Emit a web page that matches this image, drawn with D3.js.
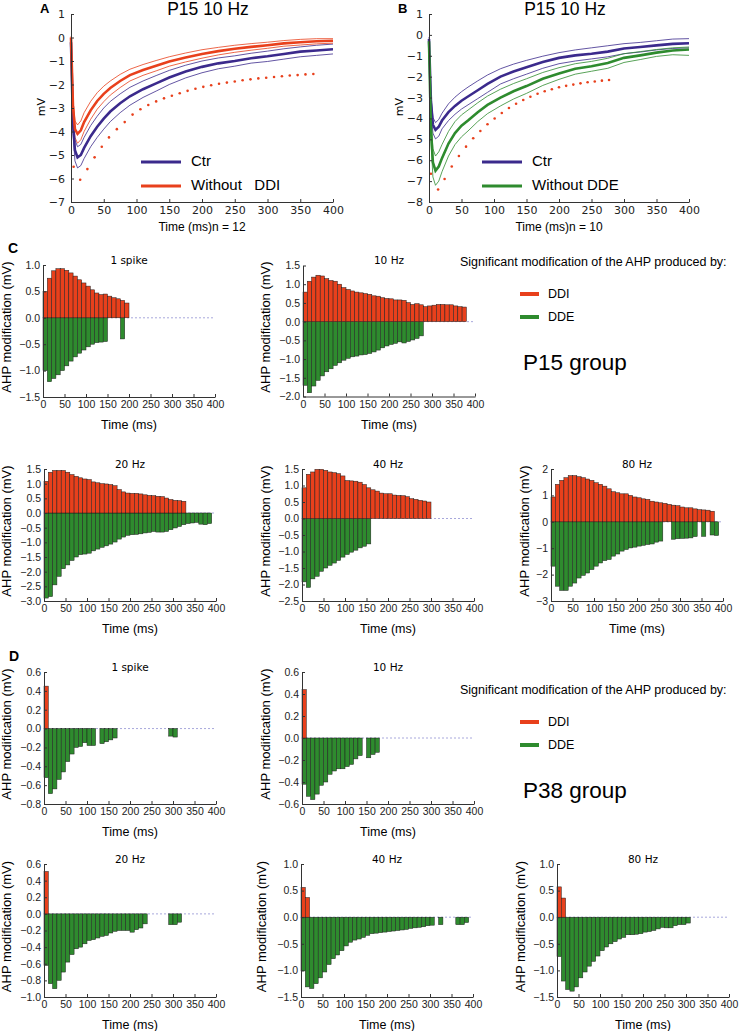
<!DOCTYPE html>
<html><head><meta charset="utf-8">
<script src="https://cdn.jsdelivr.net/npm/d3@7"></script>
<style>body{margin:0;background:#fff}</style>
</head><body>
<svg id="c" width="739" height="1031"></svg>
<script>
// ---------- Panel A / B data (time in ms, AHP in mV) ----------
const tA = [0,3,6,10,15,20,30,40,50,60,75,90,110,130,150,175,200,225,250,275,300,325,350,375,400];
const aCtr   = [-0.2,-3.6,-4.8,-5.1,-5.0,-4.7,-4.2,-3.8,-3.45,-3.15,-2.8,-2.5,-2.2,-1.95,-1.7,-1.45,-1.25,-1.1,-1.0,-0.88,-0.8,-0.7,-0.6,-0.55,-0.5];
const aCtrHi = [-0.1,-3.2,-4.35,-4.65,-4.55,-4.25,-3.75,-3.35,-3.0,-2.72,-2.4,-2.12,-1.85,-1.62,-1.4,-1.18,-1.0,-0.87,-0.78,-0.67,-0.58,-0.48,-0.4,-0.33,-0.28];
const aCtrLo = [-0.3,-4.0,-5.25,-5.55,-5.45,-5.15,-4.65,-4.25,-3.9,-3.58,-3.2,-2.88,-2.55,-2.28,-2.0,-1.72,-1.5,-1.33,-1.22,-1.09,-1.02,-0.92,-0.82,-0.76,-0.7];
const aDDI   = [0,-2.9,-3.9,-4.1,-3.95,-3.6,-3.1,-2.7,-2.4,-2.15,-1.85,-1.6,-1.38,-1.2,-1.02,-0.85,-0.7,-0.58,-0.48,-0.4,-0.33,-0.25,-0.2,-0.16,-0.14];
const aDDIHi = [0.05,-2.6,-3.55,-3.72,-3.55,-3.2,-2.72,-2.35,-2.07,-1.85,-1.57,-1.35,-1.15,-0.98,-0.82,-0.66,-0.52,-0.42,-0.33,-0.26,-0.2,-0.13,-0.08,-0.05,-0.05];
const aDDILo = [-0.05,-3.2,-4.25,-4.5,-4.35,-4.0,-3.48,-3.05,-2.73,-2.45,-2.13,-1.85,-1.61,-1.42,-1.22,-1.04,-0.88,-0.74,-0.63,-0.54,-0.46,-0.37,-0.32,-0.27,-0.24];
const aDotT = [4,14,25,36,47,58,70,82,94,106,118,130,142,154,166,178,190,202,214,226,238,250,262,274,286,298,310,322,334,346,358,370];
const aDotV = [-5.5,-6.05,-5.6,-5.1,-4.65,-4.25,-3.9,-3.6,-3.28,-3.05,-2.87,-2.72,-2.59,-2.48,-2.37,-2.27,-2.18,-2.1,-2.03,-1.97,-1.92,-1.87,-1.82,-1.78,-1.74,-1.71,-1.68,-1.65,-1.62,-1.6,-1.57,-1.55];

const bCtr   = [-0.2,-3.2,-4.3,-4.55,-4.4,-4.1,-3.7,-3.4,-3.15,-2.95,-2.65,-2.35,-2.0,-1.75,-1.55,-1.3,-1.1,-0.98,-0.9,-0.8,-0.65,-0.58,-0.5,-0.43,-0.4];
const bCtrHi = [-0.1,-2.9,-3.95,-4.2,-4.05,-3.75,-3.3,-2.98,-2.72,-2.5,-2.2,-1.92,-1.62,-1.4,-1.22,-1.02,-0.85,-0.72,-0.62,-0.52,-0.42,-0.36,-0.28,-0.2,-0.18];
const bCtrLo = [-0.3,-3.5,-4.7,-4.98,-4.85,-4.5,-4.1,-3.8,-3.55,-3.35,-3.05,-2.75,-2.35,-2.1,-1.88,-1.6,-1.38,-1.25,-1.15,-1.05,-0.9,-0.82,-0.72,-0.65,-0.62];
const bDDE   = [-0.3,-4.5,-6.1,-6.5,-6.3,-5.9,-5.2,-4.7,-4.35,-4.1,-3.7,-3.35,-3.0,-2.7,-2.45,-2.1,-1.85,-1.62,-1.5,-1.35,-1.1,-0.98,-0.85,-0.75,-0.7];
const bDDEHi = [-0.2,-4.0,-5.45,-5.8,-5.6,-5.25,-4.62,-4.15,-3.83,-3.6,-3.25,-2.93,-2.6,-2.33,-2.1,-1.8,-1.57,-1.38,-1.27,-1.12,-0.9,-0.8,-0.7,-0.62,-0.58];
const bDDELo = [-0.4,-5.0,-6.8,-7.2,-7.0,-6.55,-5.8,-5.25,-4.88,-4.6,-4.15,-3.77,-3.4,-3.07,-2.8,-2.42,-2.13,-1.88,-1.74,-1.6,-1.32,-1.18,-1.03,-0.95,-0.98];
const bDotT = [3,14,24,35,46,57,68,79,90,101,112,123,134,145,156,167,178,189,200,211,222,233,244,255,266,277];
const bDotV = [-6.65,-7.4,-6.9,-6.3,-5.8,-5.35,-4.95,-4.6,-4.28,-4.0,-3.74,-3.5,-3.3,-3.12,-2.96,-2.82,-2.7,-2.6,-2.51,-2.44,-2.38,-2.32,-2.27,-2.23,-2.19,-2.16];

// ---------- Panels C / D: AHP modification per 10 ms bin (null = not significant) ----------
const p15Spike1DDI = [0.5,0.75,0.89,0.93,0.93,0.9,0.85,0.79,0.72,0.66,0.6,0.53,0.47,0.44,0.45,0.41,0.38,0.36,0.33,0.28];
const p15Spike1DDE = [-1.0,-1.21,-1.15,-1.08,-1.0,-0.91,-0.82,-0.74,-0.67,-0.61,-0.55,-0.5,-0.47,-0.46,-0.45,null,null,null,-0.4];
const p15Hz10DDI = [0.79,1.08,1.19,1.24,1.22,1.15,1.1,1.08,1.0,0.91,0.86,0.82,0.79,0.77,0.75,0.73,0.69,0.68,0.64,0.62,0.61,0.58,0.58,0.57,0.51,0.46,0.48,0.45,0.4,0.42,0.44,0.46,0.46,0.45,0.45,0.42,0.4,0.39];
const p15Hz10DDE = [-1.7,-1.9,-1.72,-1.57,-1.45,-1.34,-1.26,-1.17,-1.1,-1.03,-0.98,-0.94,-0.92,-0.89,-0.88,-0.85,-0.81,-0.76,-0.7,-0.65,-0.61,-0.58,-0.54,-0.57,-0.53,-0.49,-0.45,-0.38];
const p15Hz20DDI = [1.08,1.39,1.45,1.45,1.45,1.39,1.31,1.25,1.2,1.16,1.14,1.06,1.03,1.0,0.99,0.97,0.93,0.8,0.72,0.68,0.67,0.67,0.65,0.62,0.6,0.59,0.57,0.56,0.51,0.46,0.43,0.42,0.4];
const p15Hz20DDE = [-2.9,-2.85,-2.45,-2.16,-1.9,-1.77,-1.62,-1.5,-1.42,-1.4,-1.37,-1.29,-1.23,-1.17,-1.12,-1.06,-0.99,-0.89,-0.82,-0.76,-0.74,-0.73,-0.71,-0.68,-0.66,-0.63,-0.65,-0.65,-0.63,-0.57,-0.51,-0.46,-0.4,-0.36,-0.34,-0.32,-0.38,-0.4,-0.36];
const p15Hz40DDI = [0.93,1.34,1.41,1.49,1.49,1.46,1.41,1.39,1.36,1.29,1.15,1.14,1.13,1.1,1.03,0.93,0.87,0.83,0.77,0.75,0.75,0.71,0.7,0.69,0.66,0.6,0.58,0.55,0.53,0.5];
const p15Hz40DDE = [-1.92,-2.09,-1.83,-1.75,-1.6,-1.5,-1.42,-1.35,-1.27,-1.17,-1.09,-1.02,-0.96,-0.89,-0.84,-0.77];
const p15Hz80DDI = [0.94,1.42,1.57,1.67,1.75,1.75,1.71,1.67,1.62,1.57,1.48,1.42,1.35,1.25,1.14,1.1,1.06,1.06,1.0,0.94,0.91,0.87,0.85,0.78,0.75,0.72,0.7,0.66,0.63,0.61,0.56,0.53,0.53,0.49,0.46,0.45,0.44,0.4];
const p15Hz80DDE = [-1.68,-2.44,-2.6,-2.6,-2.44,-2.32,-2.13,-2.03,-1.94,-1.81,-1.68,-1.56,-1.47,-1.43,-1.3,-1.22,-1.11,-1.05,-0.99,-0.96,-0.92,-0.89,-0.86,-0.84,-0.77,-0.73,null,null,-0.66,-0.64,-0.63,-0.62,-0.61,-0.56,null,-0.55,null,-0.5,-0.52];

const p38Spike1DDI = [0.45];
const p38Spike1DDE = [-0.52,-0.69,-0.64,-0.54,-0.46,-0.35,-0.27,-0.2,-0.19,-0.15,-0.18,-0.18,null,-0.16,-0.14,-0.12,-0.1,null,null,null,null,null,null,null,null,null,null,null,null,-0.08,-0.09];
const p38Hz10DDI = [0.44];
const p38Hz10DDE = [-0.42,-0.53,-0.56,-0.51,-0.43,-0.4,-0.33,-0.3,-0.28,-0.28,-0.26,-0.24,-0.19,-0.16,null,-0.18,-0.15,-0.13];
const p38Hz20DDI = [0.51];
const p38Hz20DDE = [-0.62,-0.84,-0.9,-0.8,-0.7,-0.58,-0.49,-0.42,-0.4,-0.36,-0.32,-0.31,-0.29,-0.27,-0.26,-0.23,-0.21,-0.2,-0.2,-0.2,-0.22,-0.19,-0.17,-0.12,null,null,null,null,null,-0.13,-0.13,-0.1];
const p38Hz40DDI = [0.56,0.37];
const p38Hz40DDE = [-1.01,-1.31,-1.34,-1.25,-1.14,-1.03,-0.89,-0.78,-0.71,-0.63,-0.54,-0.47,-0.43,-0.41,-0.38,-0.34,-0.31,-0.3,-0.29,-0.28,-0.27,-0.26,-0.25,-0.24,-0.23,-0.21,-0.2,-0.19,-0.18,-0.16,-0.15,null,-0.14,null,null,null,-0.14,-0.14,-0.1];
const p38Hz80DDI = [0.57,0.36];
const p38Hz80DDE = [-0.74,-1.2,-1.36,-1.39,-1.31,-1.14,-1.03,-0.92,-0.83,-0.73,-0.63,-0.56,-0.5,-0.46,-0.41,-0.38,-0.33,-0.33,-0.32,-0.31,-0.28,-0.27,-0.25,-0.22,-0.19,-0.2,-0.2,-0.16,-0.14,-0.14,-0.11];

const timeTicks = [0,50,100,150,200,250,300,350,400];
const binWidth = 10;

// ---------- drawing ----------
const svg = d3.select('#c');
const RED = '#e8401c', GREEN = '#2e8b2e', PURPLE = '#3b2a8c';
const SANS = '"Liberation Sans", Arial, sans-serif';
const DJ = '"DejaVu Sans", sans-serif';

function styleAxis(g, font, size) {
  g.selectAll('.domain').attr('stroke', '#333').attr('stroke-width', 1);
  g.selectAll('.tick line').attr('stroke', '#333');
  g.selectAll('.tick text').attr('font-family', font).attr('font-size', size).attr('fill', '#222');
}

function tracePanel(p) {
  const x = d3.scaleLinear([0, 400], [p.x0, p.x1]);
  const y = d3.scaleLinear([p.ymin, 1], [p.yBot, p.yTop]);
  const g = svg.append('g');
  const line = vals => d3.line().x((d, i) => x(tA[i])).y(d => y(d))(vals);
  p.thin.forEach(s => g.append('path').attr('d', line(s.v)).attr('fill', 'none').attr('stroke', s.c).attr('stroke-width', 0.8));
  p.thick.forEach(s => g.append('path').attr('d', line(s.v)).attr('fill', 'none').attr('stroke', s.c).attr('stroke-width', 2.6));
  g.selectAll('circle.dot').data(p.dotT).join('circle')
    .attr('cx', d => x(d)).attr('cy', (d, i) => y(p.dotV[i])).attr('r', 1.3).attr('fill', RED);
  const ax = g.append('g').attr('transform', `translate(0,${p.yBot})`)
    .call(d3.axisBottom(x).tickValues(timeTicks).tickSize(-3).tickSizeOuter(0).tickPadding(4));
  styleAxis(ax, DJ, 11);
  const ay = g.append('g').attr('transform', `translate(${p.x0},0)`)
    .call(d3.axisLeft(y).tickValues(d3.range(p.ymin, 2)).tickFormat(d3.format('d')).tickSize(-3).tickSizeOuter(0).tickPadding(6));
  styleAxis(ay, DJ, 11);
  g.append('text').attr('transform', `translate(${p.x0 - 29},${(p.yTop + p.yBot) / 2 - 1}) rotate(-90)`)
    .attr('text-anchor', 'middle').attr('dominant-baseline', 'middle')
    .attr('font-family', DJ).attr('font-size', 11).text('mV');
  g.append('text').attr('x', (p.x0 + p.x1) / 2 + 6).attr('y', 10).attr('text-anchor', 'middle').attr('dominant-baseline', 'middle')
    .attr('font-family', SANS).attr('font-size', 17.5).text('P15 10 Hz');
  g.append('text').attr('x', p.x0 - 31).attr('y', 10).attr('dominant-baseline', 'middle')
    .attr('font-family', SANS).attr('font-weight', 'bold').attr('font-size', 13).text(p.letter);
  g.append('text').attr('x', (p.x0 + p.x1) / 2).attr('y', 228).attr('text-anchor', 'middle').attr('dominant-baseline', 'middle')
    .attr('font-family', SANS).attr('font-size', 12).text(p.xlabel);
  p.legend.forEach((l, i) => {
    const ly = 162 + i * 24;
    g.append('line').attr('x1', p.legX).attr('x2', p.legX + 40).attr('y1', ly).attr('y2', ly).attr('stroke', l.c).attr('stroke-width', 3);
    g.append('text').attr('x', p.legX + 50).attr('y', ly).attr('dominant-baseline', 'middle').attr('xml:space', 'preserve')
      .style('white-space', 'pre').attr('font-family', SANS).attr('font-size', 15).text(l.t);
  });
}

tracePanel({x0: 71, x1: 333, yTop: 14, yBot: 202, ymin: -7, letter: 'A', legX: 141, xlabel: 'Time (ms)n = 12',
  thin: [{v: aCtrHi, c: PURPLE}, {v: aCtrLo, c: PURPLE}, {v: aDDIHi, c: RED}, {v: aDDILo, c: RED}],
  thick: [{v: aCtr, c: PURPLE}, {v: aDDI, c: RED}], dotT: aDotT, dotV: aDotV,
  legend: [{t: 'Ctr', c: PURPLE}, {t: 'Without   DDI', c: RED}]});
tracePanel({x0: 429, x1: 689, yTop: 14, yBot: 202, ymin: -8, letter: 'B', legX: 482, xlabel: 'Time (ms)n = 10',
  thin: [{v: bCtrHi, c: PURPLE}, {v: bCtrLo, c: PURPLE}, {v: bDDEHi, c: GREEN}, {v: bDDELo, c: GREEN}],
  thick: [{v: bCtr, c: PURPLE}, {v: bDDE, c: GREEN}], dotT: bDotT, dotV: bDotV,
  legend: [{t: 'Ctr', c: PURPLE}, {t: 'Without DDE', c: GREEN}]});

function barPanel(p) {
  const x = d3.scaleLinear([0, 400], [p.x0, p.x1]);
  const y = d3.scaleLinear([p.ymin, p.ymax], [p.yBot, p.yTop]);
  const g = svg.append('g');
  g.append('line').attr('x1', x(0)).attr('x2', x(400)).attr('y1', y(0)).attr('y2', y(0))
    .attr('stroke', '#a8a8dc').attr('stroke-width', 1).attr('stroke-dasharray', '2,2');
  const bw = x(binWidth) - x(0);
  [[p.dde, GREEN], [p.ddi, RED]].forEach(([vals, col]) => {
    const data = vals.map((v, i) => ({v, i})).filter(d => d.v !== null);
    g.selectAll(null).data(data).join('rect')
      .attr('x', d => x(d.i * binWidth)).attr('width', bw)
      .attr('y', d => Math.min(y(d.v), y(0))).attr('height', d => Math.abs(y(d.v) - y(0)))
      .attr('fill', col).attr('stroke', '#1e1e1e').attr('stroke-width', 0.5);
  });
  const nT = Math.round((p.ymax - p.ymin) / p.step);
  const yt = d3.range(nT + 1).map(i => +(p.ymin + i * p.step).toFixed(2));
  const ax = g.append('g').attr('transform', `translate(0,${p.yBot})`)
    .call(d3.axisBottom(x).tickValues(timeTicks).tickSize(-3).tickSizeOuter(0).tickPadding(4));
  styleAxis(ax, SANS, 10.5);
  const ay = g.append('g').attr('transform', `translate(${p.x0},0)`)
    .call(d3.axisLeft(y).tickValues(yt).tickFormat(d3.format(p.fmt)).tickSize(-3).tickSizeOuter(0).tickPadding(3));
  styleAxis(ay, SANS, 10.5);
  g.append('text').attr('x', (p.x0 + p.x1) / 2).attr('y', p.yTop - 4.5).attr('text-anchor', 'middle').attr('dominant-baseline', 'middle')
    .attr('font-family', DJ).attr('font-size', 10.5).text(p.title);
  g.append('text').attr('x', (p.x0 + p.x1) / 2).attr('y', p.yBot + 29).attr('text-anchor', 'middle').attr('dominant-baseline', 'middle')
    .attr('font-family', SANS).attr('font-size', 12.5).text('Time (ms)');
  g.append('text').attr('transform', `translate(${p.x0 - p.ylabOff},${(p.yTop + p.yBot) / 2 - 4}) rotate(-90)`)
    .attr('text-anchor', 'middle').attr('dominant-baseline', 'middle')
    .attr('font-family', SANS).attr('font-size', 13).text('AHP modification (mV)');
}

const barPanels = [
  {x0: 43, x1: 215, yTop: 265, yBot: 397, ymin: -1.5, ymax: 1.0, step: 0.5, fmt: '.1f', title: '1 spike', ddi: p15Spike1DDI, dde: p15Spike1DDE, ylabOff: 35},
  {x0: 303, x1: 475, yTop: 265.5, yBot: 396.5, ymin: -2.0, ymax: 1.5, step: 0.5, fmt: '.1f', title: '10 Hz', ddi: p15Hz10DDI, dde: p15Hz10DDE, ylabOff: 36},
  {x0: 44, x1: 216, yTop: 469, yBot: 601, ymin: -3.0, ymax: 1.5, step: 0.5, fmt: '.1f', title: '20 Hz', ddi: p15Hz20DDI, dde: p15Hz20DDE, ylabOff: 36},
  {x0: 302, x1: 474, yTop: 469, yBot: 601, ymin: -2.5, ymax: 1.5, step: 0.5, fmt: '.1f', title: '40 Hz', ddi: p15Hz40DDI, dde: p15Hz40DDE, ylabOff: 35},
  {x0: 551, x1: 723, yTop: 469, yBot: 601, ymin: -3, ymax: 2, step: 1, fmt: 'd', title: '80 Hz', ddi: p15Hz80DDI, dde: p15Hz80DDE, ylabOff: 25},
  {x0: 44, x1: 216, yTop: 672, yBot: 804, ymin: -0.8, ymax: 0.6, step: 0.2, fmt: '.1f', title: '1 spike', ddi: p38Spike1DDI, dde: p38Spike1DDE, ylabOff: 36},
  {x0: 302, x1: 474, yTop: 672, yBot: 804, ymin: -0.6, ymax: 0.6, step: 0.2, fmt: '.1f', title: '10 Hz', ddi: p38Hz10DDI, dde: p38Hz10DDE, ylabOff: 35},
  {x0: 44, x1: 216, yTop: 864, yBot: 997, ymin: -1.0, ymax: 0.6, step: 0.2, fmt: '.1f', title: '20 Hz', ddi: p38Hz20DDI, dde: p38Hz20DDE, ylabOff: 36},
  {x0: 301, x1: 473, yTop: 864, yBot: 997, ymin: -1.5, ymax: 1.0, step: 0.5, fmt: '.1f', title: '40 Hz', ddi: p38Hz40DDI, dde: p38Hz40DDE, ylabOff: 38},
  {x0: 557, x1: 729, yTop: 864, yBot: 997, ymin: -1.5, ymax: 1.0, step: 0.5, fmt: '.1f', title: '80 Hz', ddi: p38Hz80DDI, dde: p38Hz80DDE, ylabOff: 35}
];
barPanels.forEach(barPanel);

// section letters
[['C', 8, 249], ['D', 9, 657]].forEach(([t, xx, yy]) => svg.append('text').attr('x', xx).attr('y', yy)
  .attr('dominant-baseline', 'middle').attr('font-family', SANS).attr('font-weight', 'bold').attr('font-size', 14).text(t));

// legends
function legendBlock(y0, group) {
  svg.append('text').attr('x', 460).attr('y', y0).attr('dominant-baseline', 'middle')
    .attr('font-family', SANS).attr('font-size', 12.5).text('Significant modification of the AHP produced by:');
  [['DDI', RED], ['DDE', GREEN]].forEach(([t, c], i) => {
    const yy = y0 + 31 + i * 23;
    svg.append('rect').attr('x', 520).attr('y', yy - 2).attr('width', 19).attr('height', 4).attr('fill', c);
    svg.append('text').attr('x', 548).attr('y', yy + 1).attr('dominant-baseline', 'middle')
      .attr('font-family', SANS).attr('font-size', 12.5).text(t);
  });
  svg.append('text').attr('x', 523).attr('y', y0 + 101).attr('dominant-baseline', 'middle')
    .attr('font-family', SANS).attr('font-size', 22.5).text(group);
}
legendBlock(263, 'P15 group');
legendBlock(691, 'P38 group');
</script>
</body></html>
